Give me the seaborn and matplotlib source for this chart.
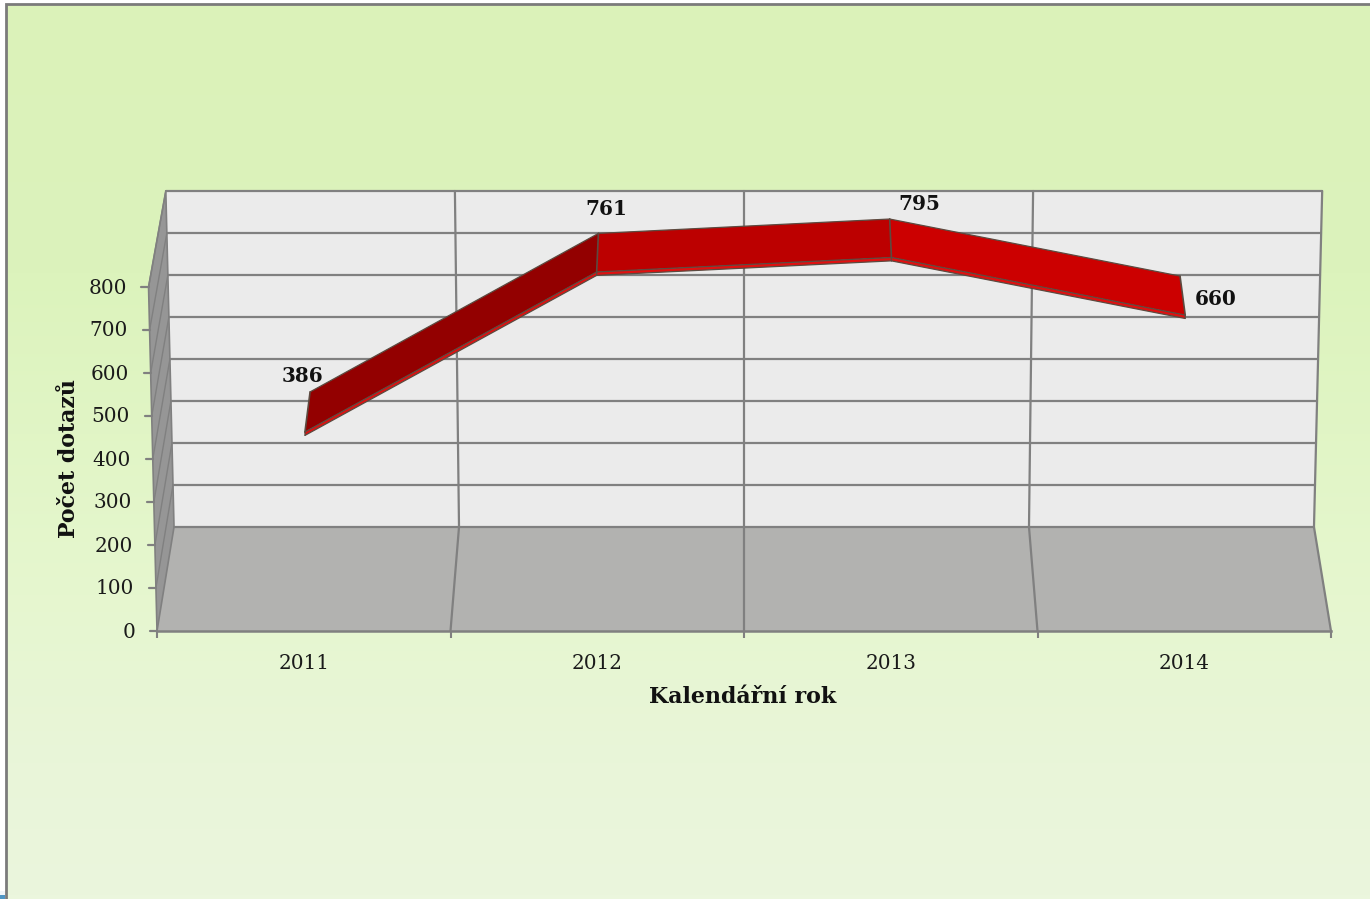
import numpy as np
import pandas as pd
import seaborn as sns
import matplotlib.pyplot as plt
from matplotlib.colors import LinearSegmentedColormap

years = ["2011", "2012", "2013", "2014"]
dotazy = [386, 761, 795, 660]
y_ticks = [0, 100, 200, 300, 400, 500, 600, 700, 800]

sns.set_theme(style="white")
plt.rcParams["font.family"] = ["DejaVu Serif"]

GRID = "#808080"
TEXT = "#1a1a1a"
EDGE = "#5c4a40"
seg_colors = ["#930000", "#BC0000", "#CC0000"]


# fake Excel 3D look: depth 0 = front of the floor, depth 1 = back wall
def project(x, v, d):
    x = np.asarray(x, dtype=float)
    v = np.asarray(v, dtype=float)
    px = 1.5 + (x - 1.5) * (1 - 0.029 * d) * (1 + 1.8e-5 * v)
    py = 241.9 * d + v * (1 - 0.0233 * d)
    return px, py


W, H = 1370, 899
fig = plt.figure(figsize=(W / 100, H / 100), dpi=100)

# Background with the green gradient and the slide frame
bg = fig.add_axes([0, 0, 1, 1], zorder=0)
cmap = LinearSegmentedColormap.from_list("bg", [
    (0.0, "#dbf2b9"), (0.3, "#dcf3bc"), (0.66, "#e6f7cf"), (0.85, "#e9f5d9"), (1.0, "#ebf6dd")])
bg.imshow(np.linspace(0, 1, 256).reshape(-1, 1), cmap=cmap, aspect="auto", extent=[6, W, H, 4])
bg.imshow([[0], [1]], cmap=LinearSegmentedColormap.from_list("s", ["#f2f6fa", "#4f95c4"]),
          aspect="auto", extent=[0, 5, H, H - 8])
bg.set_xlim(0, W)
bg.set_ylim(H, 0)
bg.axis("off")
bg.plot([6, 6, W], [H, 4, 4], color="#7b7b7b", lw=2, solid_joinstyle="miter")

# Main axes sit on the front plane of the chart
ax = fig.add_axes([157 / W, 1 - 631 / H, 1174 / W, 344 / H], zorder=1)
ax.patch.set_alpha(0)
ax.set_xlim(-0.5, 3.5)
ax.set_ylim(0, 800)

edges = np.arange(-0.5, 4, 1.0)
v_top = y_ticks[-1]
x0, x1 = edges[0], edges[-1]


def quad(xs, vs, ds, color, z):
    pts = [project(a, b, c) for a, b, c in zip(xs, vs, ds)]
    ax.fill([p[0] for p in pts], [p[1] for p in pts], color=color, lw=0, zorder=z, clip_on=False)


def seg(xs, vs, ds, z=2, lw=1.6, color=GRID):
    pts = [project(a, b, c) for a, b, c in zip(xs, vs, ds)]
    line = pd.DataFrame({"x": [float(p[0]) for p in pts], "y": [float(p[1]) for p in pts]})
    sns.lineplot(data=line, x="x", y="y", ax=ax, sort=False, estimator=None, color=color,
                 lw=lw, zorder=z, clip_on=False)


# Walls and floor
quad([x0, x1, x1, x0], [0, 0, v_top, v_top], [1, 1, 1, 1], "#ebebeb", 1)
quad([x0, x1, x1, x0], [0, 0, 0, 0], [0, 0, 1, 1], "#b2b2b0", 1)
quad([x0, x0, x0, x0], [0, v_top, v_top, 0], [0, 0, 1, 1], "#969696", 1)

for v in y_ticks[1:]:
    seg([x0, x1], [v, v], [1, 1])
    seg([x0, x0], [v, v], [0, 1], lw=1.0)
for e in edges[1:-1]:
    seg([e, e, e], [v_top, 0, 0], [1, 1, 0])
seg([x0, x1], [0, 0], [1, 1])
seg([x0, x0, x0], [v_top, v_top, 0], [0, 1, 1], lw=1.2)
seg([x0, x0], [0, 0], [0, 1], lw=1.2)
seg([x0, x0], [0, v_top], [0, 0], lw=1.2)
seg([x1, x1, x1], [v_top, 0, 0], [1, 1, 0])

# Y axis ticks follow the slanted front edge
for v in y_ticks:
    px, py = project(x0, v, 0)
    seg([x0 - 0.0239, x0], [v, v], [0, 0], z=3)
    ax.annotate(str(v), (float(px), float(py)), xytext=(-22, -1), textcoords="offset pixels",
                ha="right", va="center", fontsize=14.4, color=TEXT, annotation_clip=False)

# Ribbon, strip under it first
x_pos = np.arange(len(years))
thick = 8
d_front, d_back = 0.33, 0.73
for i in range(len(dotazy) - 1):
    xs = [x_pos[i], x_pos[i + 1], x_pos[i + 1], x_pos[i]]
    a, b = dotazy[i], dotazy[i + 1]
    quad(xs, [a, b, b - thick, a - thick], [d_front] * 4, "#e01010", 4)
    quad(xs, [a, b, b, a], [d_front, d_front, d_back, d_back], seg_colors[i], 5)
    seg([x_pos[i], x_pos[i + 1]], [a, b], [d_back, d_back], z=6, lw=0.9, color=EDGE)
    seg([x_pos[i], x_pos[i + 1]], [a, b], [d_front, d_front], z=6, lw=0.9, color=EDGE)
    seg([x_pos[i], x_pos[i + 1]], [a - thick, b - thick], [d_front, d_front], z=6, lw=0.9, color=EDGE)
for i, v in enumerate(dotazy):
    seg([x_pos[i]] * 2, [v, v], [d_front, d_back], z=6, lw=1.2, color=EDGE)
    seg([x_pos[i]] * 2, [v, v - thick], [d_front, d_front], z=6, lw=0.9, color=EDGE)

# Value labels, offsets in pixels from the back corner of the ribbon
offsets = [(-8, 16), (8, 24), (30, 15), (36, -23)]
for i, v in enumerate(dotazy):
    px, py = project(x_pos[i], v, d_back)
    ax.annotate(str(v), (float(px), float(py)), xytext=offsets[i], textcoords="offset pixels",
                ha="center", va="center", fontsize=14.4, fontweight="bold", color="#111111",
                annotation_clip=False)

# Axes furniture
sns.despine(ax=ax, left=True, top=True, right=True)
ax.spines["bottom"].set_color(GRID)
ax.spines["bottom"].set_linewidth(1.8)
ax.spines["bottom"].set_zorder(8)
ax.set_yticks([])
ax.set_xticks(x_pos, years)
ax.set_xticks(edges, minor=True)
ax.tick_params(axis="x", which="major", length=0, pad=16.5, labelsize=14.4, labelcolor=TEXT)
ax.tick_params(axis="x", which="minor", bottom=True, length=5, width=1.5, color=GRID)
ax.set_xlabel("Kalendářní rok", fontsize=15.9, fontweight="bold", color="#111111")
ax.set_ylabel("Počet dotazů", fontsize=15.9, fontweight="bold", color="#111111")
ax.xaxis.set_label_coords((743 - 157) / 1174, -(697 - 631) / 344)
ax.yaxis.set_label_coords((69 - 157) / 1174, (631 - 458) / 344)
ax.xaxis.label.set_verticalalignment("center")
ax.yaxis.label.set_verticalalignment("center")

fig.savefig("out.png", dpi=100)
